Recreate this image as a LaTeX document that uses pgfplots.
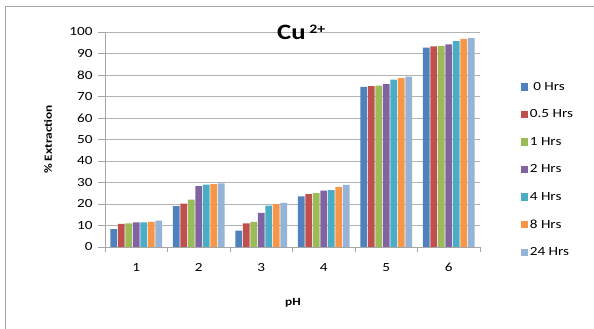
\documentclass[border=0pt]{standalone}
\usepackage{pgfplots}
\pgfplotsset{compat=1.18}
\usepackage{fontspec}
\setmainfont{Carlito}[FakeStretch=1.22]
\definecolor{c1}{HTML}{4F81BD}
\definecolor{c2}{HTML}{C0504D}
\definecolor{c3}{HTML}{9BBB59}
\definecolor{c4}{HTML}{8064A2}
\definecolor{c5}{HTML}{4BACC6}
\definecolor{c6}{HTML}{F79646}
\definecolor{c7}{HTML}{95B3D7}
\begin{document}
\begin{tikzpicture}
\useasboundingbox (0,0) rectangle (594bp,329bp);
\fill[white] (0,0) rectangle (594bp,329bp);
\draw[gray!70, line width=1bp] (5bp,0) -- (5bp,322bp) -- (594bp,322bp);
\begin{axis}[
  at={(105bp,82bp)}, anchor=south west,
  scale only axis, width=375bp, height=215bp,
  ybar=0.8bp, bar width=6.7bp,
  xmin=0.5, xmax=6.5, ymin=0, ymax=100,
  ytick={0,10,...,100},
  xtick={1,...,6},
  minor xtick={0.5,1.5,...,6.5},
  tick align=outside,
  major tick length=7bp, minor tick length=5bp,
  xtick style={draw=none},
  minor x tick style={draw=gray!70},
  ytick style={draw=gray!70},
  ymajorgrids, grid style={gray!60, line width=0.8bp},
  axis x line*=bottom, axis y line*=left,
  axis line style={gray!70, line width=0.8bp, -},
  tick label style={font=\fontsize{12.5}{14}\selectfont},
  /pgf/number format/assume math mode=true,
  yticklabel style={xshift=-2bp},
  xticklabel style={yshift=-6bp},
  ylabel={\% Extraction},
  ylabel style={font=\bfseries\fontsize{11}{13}\selectfont, at={(axis description cs:-0.152,0.5)}, anchor=center},
  xlabel={pH},
  xlabel style={font=\bfseries\fontsize{11}{13}\selectfont, at={(axis description cs:0.501,-0.26)}, anchor=center},
  title={Cu\,\raisebox{0.5ex}{\fontsize{13}{15}\selectfont 2+}},
  title style={font=\bfseries\fontsize{22}{26}\selectfont, at={(axis description cs:0.523,0.972)}, anchor=center},
  legend style={draw=none, fill=none, at={(axis description cs:1.108,0.777)}, anchor=north west,
    font=\fontsize{12.5}{14}\selectfont, row sep=14bp, inner sep=0pt},
  legend cell align=left,
  legend image code/.code={\fill[#1] (0bp,-3.6bp) rectangle (7.2bp,3.6bp);},
  every axis plot/.append style={draw=none},
]
\addplot[fill=c1] coordinates {(1,8.3) (2,19.0) (3,7.6) (4,23.6) (5,74.5) (6,92.7)};
\addplot[fill=c2] coordinates {(1,10.7) (2,20.2) (3,11.0) (4,24.6) (5,74.8) (6,93.3)};
\addplot[fill=c3] coordinates {(1,11.0) (2,22.0) (3,11.7) (4,25.1) (5,75.0) (6,93.5)};
\addplot[fill=c4] coordinates {(1,11.5) (2,28.3) (3,15.9) (4,26.2) (5,75.8) (6,94.3)};
\addplot[fill=c5] coordinates {(1,11.5) (2,29.0) (3,19.3) (4,26.5) (5,77.8) (6,95.8)};
\addplot[fill=c6] coordinates {(1,11.7) (2,29.2) (3,19.9) (4,28.0) (5,78.6) (6,96.8)};
\addplot[fill=c7] coordinates {(1,12.3) (2,29.6) (3,20.5) (4,28.9) (5,79.2) (6,97.1)};
\legend{\ 0 Hrs, 0.5 Hrs, 1 Hrs, 2 Hrs, 4 Hrs, 8 Hrs, 24 Hrs}
\end{axis}
\end{tikzpicture}
\end{document}
